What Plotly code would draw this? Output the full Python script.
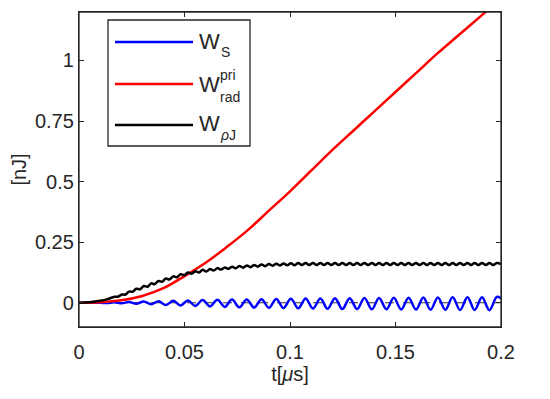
import plotly.graph_objects as go

# ---------------- data ----------------
red_t = [0, 0.01, 0.02, 0.03, 0.04, 0.05, 0.06, 0.07, 0.08, 0.09, 0.10,
         0.11, 0.12, 0.13, 0.14, 0.15, 0.16, 0.17, 0.18, 0.19, 0.20]
red_v = [0, 0.002, 0.010, 0.028, 0.060, 0.110, 0.165, 0.230, 0.300, 0.380, 0.460,
         0.545, 0.630, 0.710, 0.790, 0.870, 0.950, 1.030, 1.105, 1.180, 1.255]

blue_t = [0, 0.005, 0.010, 0.0135,
          0.0168, 0.0203, 0.0237, 0.0272, 0.0307, 0.0342, 0.0377, 0.0412, 0.0447, 0.0481,
          0.0516, 0.0551, 0.0586, 0.0621, 0.0656, 0.0691, 0.0725, 0.0760, 0.0795, 0.0830,
          0.0865, 0.0900, 0.0935, 0.0969, 0.1004, 0.1039, 0.1074, 0.1109, 0.1144, 0.1178,
          0.1213, 0.1248, 0.1283, 0.1318, 0.1353, 0.1388, 0.1422, 0.1457, 0.1492, 0.1527,
          0.1562, 0.1597, 0.1632, 0.1666, 0.1701, 0.1736, 0.1771, 0.1806, 0.1841, 0.1875,
          0.1910, 0.1945, 0.1980, 0.2000]
blue_v = [0, 0, 0, -0.001,
          0.002, -0.002, 0.003, -0.004, 0.005, -0.006, 0.006, -0.009, 0.008, -0.011,
          0.009, -0.013, 0.011, -0.015, 0.012, -0.017, 0.013, -0.019, 0.014, -0.020,
          0.015, -0.021, 0.016, -0.022, 0.017, -0.023, 0.018, -0.024, 0.018, -0.025,
          0.019, -0.026, 0.019, -0.026, 0.020, -0.027, 0.020, -0.027, 0.021, -0.028,
          0.021, -0.028, 0.022, -0.029, 0.022, -0.029, 0.023, -0.030, 0.023, -0.030,
          0.023, -0.031, 0.024, 0.018]

black_t = [0, 0.005, 0.010, 0.0135,
           0.0168, 0.0185, 0.0203, 0.0220, 0.0237, 0.0255, 0.0272, 0.0290, 0.0307, 0.0325,
           0.0342, 0.0359, 0.0377, 0.0394, 0.0412, 0.0429, 0.0447, 0.0464, 0.0481, 0.0499,
           0.0516, 0.0534, 0.0551, 0.0569, 0.0586, 0.0603, 0.0621, 0.0638, 0.0656, 0.0673,
           0.0691, 0.0708, 0.0725, 0.0743, 0.0760, 0.0778, 0.0795, 0.0813, 0.0830, 0.0847,
           0.0865, 0.0882, 0.0900, 0.0917, 0.0935, 0.0952, 0.0969, 0.0987, 0.1004, 0.1022,
           0.1039, 0.1056, 0.1074, 0.1091, 0.1109, 0.1126, 0.1144, 0.1161, 0.1178, 0.1196,
           0.1213, 0.1231, 0.1248, 0.1266, 0.1283, 0.1300, 0.1318, 0.1335, 0.1353, 0.1370,
           0.1388, 0.1405, 0.1422, 0.1440, 0.1457, 0.1475, 0.1492, 0.1510, 0.1527, 0.1544,
           0.1562, 0.1579, 0.1597, 0.1614, 0.1632, 0.1649, 0.1666, 0.1684, 0.1701, 0.1719,
           0.1736, 0.1754, 0.1771, 0.1788, 0.1806, 0.1823, 0.1841, 0.1858, 0.1875, 0.1893,
           0.1910, 0.1928, 0.1945, 0.1963, 0.1980, 0.2000]
black_v = [0, 0.002, 0.008, 0.015,
           0.025, 0.025, 0.034, 0.034, 0.046, 0.046, 0.058, 0.056, 0.069, 0.066,
           0.080, 0.077, 0.090, 0.087, 0.100, 0.096, 0.109, 0.105, 0.118, 0.114,
           0.125, 0.120, 0.130, 0.125, 0.136, 0.129, 0.139, 0.133, 0.143, 0.137,
           0.146, 0.140, 0.149, 0.142, 0.152, 0.145, 0.154, 0.147, 0.156, 0.149,
           0.158, 0.151, 0.160, 0.153, 0.161, 0.154, 0.162, 0.155, 0.163, 0.155,
           0.164, 0.156, 0.164, 0.156, 0.164, 0.156, 0.164, 0.156, 0.164, 0.156,
           0.164, 0.156, 0.164, 0.156, 0.164, 0.156, 0.164, 0.156, 0.164, 0.156,
           0.164, 0.156, 0.164, 0.156, 0.164, 0.156, 0.164, 0.156, 0.164, 0.156,
           0.164, 0.156, 0.164, 0.156, 0.164, 0.156, 0.164, 0.156, 0.164, 0.156,
           0.164, 0.156, 0.164, 0.156, 0.164, 0.156, 0.164, 0.156, 0.164, 0.156,
           0.164, 0.156, 0.164, 0.156, 0.164, 0.160]

x_ticks = [0, 0.05, 0.1, 0.15, 0.2]
x_tick_labels = ["0", "0.05", "0.1", "0.15", "0.2"]
y_ticks = [0, 0.25, 0.5, 0.75, 1]
y_tick_labels = ["0", "0.25", "0.5", "0.75", "1"]

series_names = ["W<sub>S</sub>", "W<sup>pri</sup><sub>rad</sub>", "W<sub><i>ρ</i>J</sub>"]
series_colors = ["#0000FF", "#FF0000", "#000000"]

# ---------------- figure ----------------
# the page places the plot 8px from the top-left corner, so the figure is 8px smaller
OFF = 8
W, H = 550 - OFF, 399 - OFF
L, R, T, B = 79 - OFF, 49, 12 - OFF, 72
PW, PH = W - L - R, H - T - B
FONT = "Liberation Sans, Arial, Helvetica, sans-serif"
AX = "#262626"


def px(x):  # reference-pixel x -> paper
    return (x - OFF - L) / PW


def py(y):  # reference-pixel y -> paper
    return (H - B - (y - OFF)) / PH


fig = go.Figure()
fig.add_trace(go.Scatter(x=blue_t, y=blue_v, mode="lines", name=series_names[0],
                         line=dict(color=series_colors[0], width=2.5, shape="spline", smoothing=1)))
fig.add_trace(go.Scatter(x=red_t, y=red_v, mode="lines", name=series_names[1],
                         line=dict(color=series_colors[1], width=2.5, shape="spline", smoothing=1)))
fig.add_trace(go.Scatter(x=black_t, y=black_v, mode="lines", name=series_names[2],
                         line=dict(color=series_colors[2], width=2.5, shape="spline", smoothing=1)))

fig.add_shape(type="line", xref="x", yref="y", x0=x_ticks[0], x1=x_ticks[-1], y0=0, y1=0,
              line=dict(color="#333333", width=1.2, dash="dash"), layer="below")

axis_common = dict(showgrid=False, zeroline=False, showline=True, linecolor=AX, linewidth=1.3,
                   mirror="ticks", ticks="inside", ticklen=5, tickcolor=AX, tickwidth=1.3,
                   tickfont=dict(family=FONT, size=20, color="#262626"))
fig.update_xaxes(range=[0, 0.2], tickvals=x_ticks, ticktext=x_tick_labels, ticklabelstandoff=7,
                 title=dict(text="t[<i>μ</i>s]", font=dict(family=FONT, size=20, color="#262626"),
                            standoff=4),
                 **axis_common)
fig.update_yaxes(range=[-0.1, 1.2], tickvals=y_ticks, ticktext=y_tick_labels,
                 title=dict(text="[nJ]", font=dict(family=FONT, size=20, color="#262626"),
                            standoff=6),
                 **axis_common)

# plot frame (box) drawn explicitly so all four sides show
fig.add_shape(type="rect", xref="paper", yref="paper", x0=0, x1=1, y0=0, y1=1,
              line=dict(color=AX, width=1.3), fillcolor="rgba(0,0,0,0)", layer="above")

# ---------------- manual MATLAB-style legend ----------------
fig.add_shape(type="rect", xref="paper", yref="paper", x0=px(108), x1=px(250), y0=py(146), y1=py(20),
              line=dict(color=AX, width=1.3), fillcolor="white", layer="above")
entry_y = [42, 84, 125]
for yy, c in zip(entry_y, series_colors):
    fig.add_shape(type="line", xref="paper", yref="paper", x0=px(115), x1=px(193),
                  y0=py(yy), y1=py(yy), line=dict(color=c, width=2.5), layer="above")

ann = []


def txt(t, x, y, size):
    ann.append(dict(text=t, xref="paper", yref="paper", x=px(x), y=py(y), xanchor="left",
                    yanchor="middle", showarrow=False,
                    font=dict(family=FONT, size=size, color="#262626")))


txt("W", 197, 41, 22)
txt("S", 219, 52, 14)
txt("W", 197, 85, 22)
txt("pri", 218, 75, 14)
txt("rad", 218, 97, 14)
txt("W", 197, 124, 22)
txt("<i>ρ</i>J", 218, 135, 14)

fig.update_layout(annotations=ann)

fig.update_layout(width=W, height=H, margin=dict(l=L, r=R, t=T, b=B, autoexpand=False),
                  paper_bgcolor="white", plot_bgcolor="white", showlegend=False,
                  font=dict(family=FONT, color="#262626"))

fig.write_html("out.html")
